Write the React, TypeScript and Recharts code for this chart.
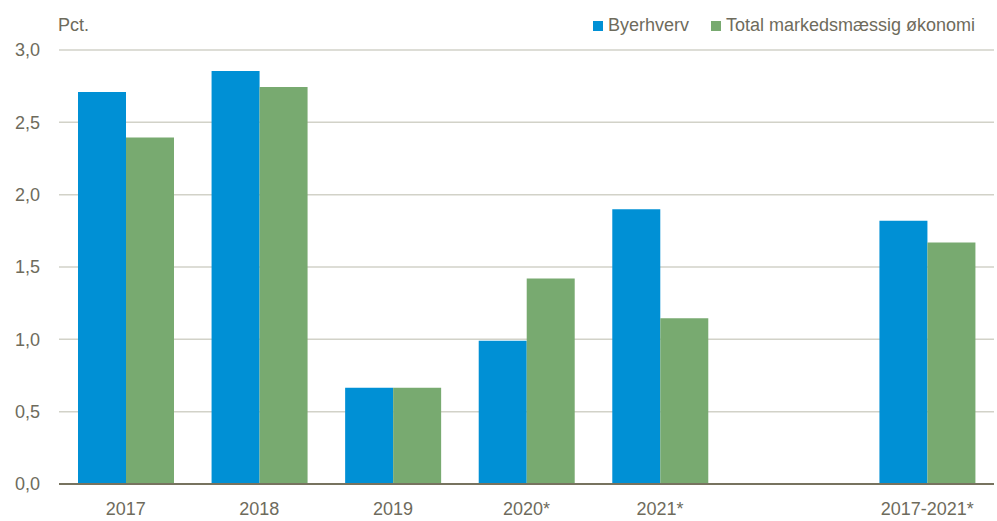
import { BarChart, Bar, XAxis, YAxis, CartesianGrid } from 'recharts';

const categories = ['2017', '2018', '2019', '2020*', '2021*', '', '2017-2021*'];
const byerhverv = [2.71, 2.855, 0.665, 0.99, 1.9, null, 1.82];
const totalMarked = [2.395, 2.745, 0.665, 1.42, 1.145, null, 1.67];
const yTicks = [0, 0.5, 1, 1.5, 2, 2.5, 3];

const BLUE = '#0090d5';
const GREEN = '#78aa70';
const TEXT = '#6e6b5c';
const FONT = '"Liberation Sans", Arial, sans-serif';

const data = categories.map((c, i) => ({
  name: c,
  byerhverv: byerhverv[i],
  total: totalMarked[i],
}));

const legendItems = [
  { label: 'Byerhverv', color: BLUE },
  { label: 'Total markedsmæssig økonomi', color: GREEN },
];

export default function App() {
  return (
    <div style={{ width: 997, height: 521, position: 'relative', background: '#fff' }}>
      <style>{`body{margin:0}`}</style>
      <div style={{ position: 'absolute', left: 58, top: 15, fontFamily: FONT, fontSize: 18, color: TEXT }}>Pct.</div>
      {/* Legend, top right */}
      <div style={{ position: 'absolute', right: 22, top: 15, display: 'flex', gap: 22, fontFamily: FONT, fontSize: 18, color: TEXT }}>
        {legendItems.map(item => (
          <div key={item.label} style={{ display: 'flex', alignItems: 'center' }}>
            <span style={{ width: 10, height: 10, background: item.color, marginRight: 5, display: 'inline-block' }} />
            <span>{item.label}</span>
          </div>
        ))}
      </div>
      <BarChart
        width={997}
        height={521}
        data={data}
        margin={{ top: 50, right: 3, left: 0, bottom: 7 }}
        barCategoryGap={19}
        barGap={0}
      >
        <CartesianGrid vertical={false} stroke="#d2d2c8" strokeWidth={1.5} />
        <XAxis
          dataKey="name"
          height={30}
          tickLine={false}
          axisLine={{ stroke: '#77735f', strokeWidth: 2 }}
          tickMargin={12}
          interval={0}
          tick={{ fill: TEXT, fontSize: 18, fontFamily: FONT }}
        />
        <YAxis
          width={59}
          domain={[0, 3]}
          ticks={yTicks}
          tickLine={false}
          axisLine={false}
          tickMargin={13}
          tickFormatter={(v: number) => v.toFixed(1).replace('.', ',')}
          tick={{ fill: TEXT, fontSize: 18, fontFamily: FONT }}
        />
        <Bar dataKey="byerhverv" name="Byerhverv" fill={BLUE} isAnimationActive={false} />
        <Bar dataKey="total" name="Total markedsmæssig økonomi" fill={GREEN} isAnimationActive={false} />
      </BarChart>
    </div>
  );
}
